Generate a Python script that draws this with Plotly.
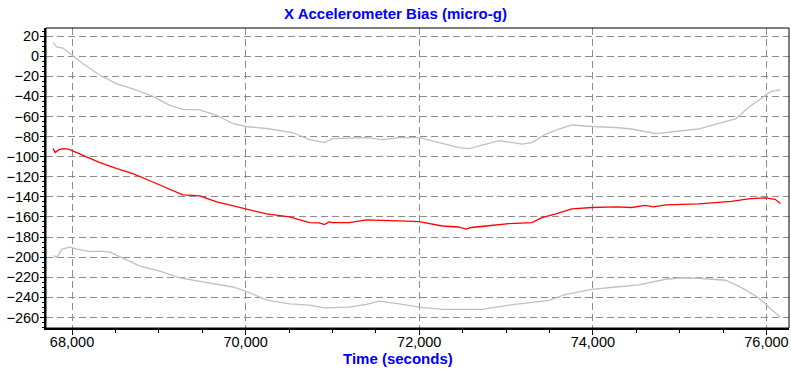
import plotly.graph_objects as go

# =========================
# data
# =========================
bias_time = [67782, 67805, 67850, 67897, 67960, 68000, 68126, 68322, 68517, 68701,
             68897, 69092, 69276, 69400, 69471, 69667, 69851, 70000, 70241, 70506,
             70736, 70850, 70908, 70960, 71000, 71195, 71391, 71770, 72000, 72264,
             72450, 72540, 72600, 72770, 73034, 73299, 73414, 73575, 73759, 73989,
             74264, 74448, 74600, 74700, 74839, 75218, 75598, 75793, 75989, 76100,
             76161]
bias_value = [-92, -96, -93, -92, -92.5, -94, -99, -106, -112, -117,
              -124, -131, -138, -138.5, -139, -145, -149, -152, -157, -160,
              -165.6, -166, -167.6, -165, -165.6, -165.6, -163, -164, -164.6, -169,
              -170, -172, -170.5, -169, -166.6, -165.6, -160.6, -157, -152, -150.6,
              -150, -150.6, -148.5, -150, -148, -147, -144.6, -142, -141, -142.5,
              -146.6]

upper_time = [67782, 67828, 67897, 68000, 68126, 68322, 68517, 68701, 68931, 69126,
              69276, 69471, 69667, 69851, 70000, 70241, 70540, 70736, 70908, 71000,
              71391, 71575, 71770, 72000, 72149, 72460, 72575, 72920, 73184, 73299,
              73460, 73609, 73759, 73989, 74264, 74448, 74724, 75023, 75218, 75448,
              75644, 75793, 75989, 76057, 76161]
upper_value = [13.4, 9, 8, 0.7, -7.6, -19, -27.5, -32.5, -40, -49,
               -53, -53.5, -59, -67, -70, -72, -76, -83, -86, -82,
               -81, -83, -81, -81, -84, -91, -92, -84, -87.5, -86,
               -77.5, -72.5, -68.5, -70, -71, -72.5, -77, -74, -72.5, -67,
               -62.5, -51, -38.5, -35, -33.5]

lower_time = [67782, 67828, 67885, 67977, 68057, 68207, 68322, 68437, 68586, 68782,
              69011, 69241, 69471, 69667, 69851, 70000, 70241, 70506, 70736, 70908,
              71195, 71391, 71540, 71770, 72000, 72264, 72724, 73034, 73494, 73690,
              73989, 74264, 74529, 74839, 75023, 75218, 75529, 75713, 75908, 76057,
              76161]
lower_value = [-198.8, -199.8, -192, -190, -192, -194.5, -194, -195, -201, -209,
               -214, -220.5, -224, -227, -229.7, -233.7, -242.7, -246.4, -247.7, -250.4,
               -249.7, -247, -243.7, -246.4, -249.7, -252, -252, -247.7, -243, -237,
               -232, -229.7, -227.7, -222, -220.5, -221, -223, -230.4, -240.4, -252,
               -259.6]

y_ticks = list(range(-260, 21, 20))
x_ticks = [68000, 70000, 72000, 74000, 76000]

FONT = "Liberation Sans, Arial, sans-serif"
GRID = "#8c8c8c"

fig = go.Figure()

for t, v in ((upper_time, upper_value), (lower_time, lower_value)):
    fig.add_trace(go.Scatter(
        x=t, y=v, mode="lines",
        line=dict(color="#c0c0c0", width=1.3),
        showlegend=False, hoverinfo="skip",
    ))

fig.add_trace(go.Scatter(
    x=bias_time, y=bias_value, mode="lines",
    line=dict(color="#ff0000", width=1.3),
    showlegend=False,
))

# =========================
# layout
# =========================
fig.update_layout(
    width=791, height=377,
    margin=dict(l=46, r=2, t=28, b=49),
    paper_bgcolor="white", plot_bgcolor="white",
    font=dict(family=FONT, size=14.5, color="black"),
    title=dict(
        text="<b>X Accelerometer Bias (micro-g)</b>",
        x=0.5, xref="container", xanchor="center",
        y=1 - 14 / 377, yref="container", yanchor="middle",
        font=dict(family=FONT, size=15, color="#0000ff"),
    ),
    xaxis=dict(
        range=[67700, 76260],
        tickvals=x_ticks,
        ticktext=[f"{v:,}" for v in x_ticks],
        ticks="outside", ticklen=5, tickcolor="black",
        ticklabelstandoff=-5,
        minor=dict(dtick=500, tick0=0, ticks="outside", ticklen=3,
                   tickcolor="black", showgrid=False),
        showgrid=True, gridcolor=GRID, griddash="7px,4px", gridwidth=1,
        showline=True, linecolor="black", linewidth=2,
        zeroline=False,
    ),
    yaxis=dict(
        range=[-270.5, 28],
        tickvals=y_ticks,
        ticks="outside", ticklen=4, tickcolor="black",
        ticklabelstandoff=-2,
        minor=dict(dtick=5, tick0=0, ticks="outside", ticklen=2,
                   tickcolor="black", showgrid=False),
        showgrid=True, gridcolor=GRID, griddash="7px,4px", gridwidth=1,
        showline=True, linecolor="black", linewidth=2,
        zeroline=False,
    ),
    shapes=[dict(
        type="rect", xref="paper", yref="paper", x0=0, x1=1, y0=0, y1=1,
        line=dict(color="black", width=1), layer="above",
    )],
    annotations=[dict(
        text="<b>Time (seconds)</b>",
        xref="paper", yref="paper",
        x=(398 - 46) / 743, y=-(358 - 328) / 300,
        xanchor="center", yanchor="middle", showarrow=False,
        font=dict(family=FONT, size=15, color="#0000ff"),
    )],
)

# page default body margin would shift the figure by 8px
fig.write_html("out.html", config={"displayModeBar": False},
               post_script="document.body.style.margin='0';")
